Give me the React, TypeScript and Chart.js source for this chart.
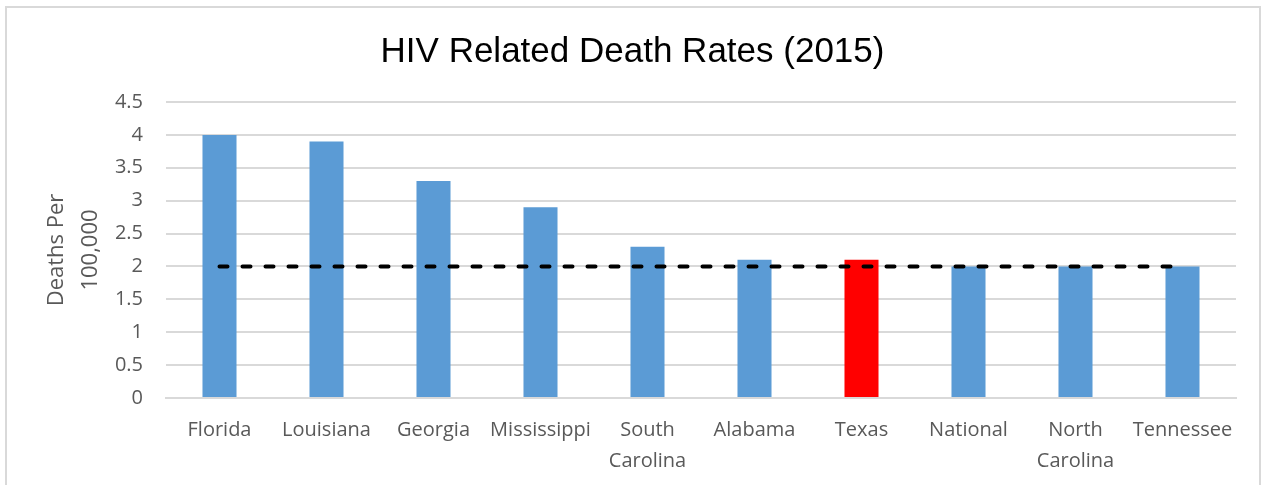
import React, { useEffect, useRef } from "react";
import { Chart, registerables } from "chart.js";

Chart.register(...registerables);

const categories: (string | string[])[] = [
  "Florida",
  "Louisiana",
  "Georgia",
  "Mississippi",
  ["South", "Carolina"],
  "Alabama",
  "Texas",
  "National",
  ["North", "Carolina"],
  "Tennessee",
];
const deathRates = [4.0, 3.9, 3.3, 2.9, 2.3, 2.1, 2.1, 2.0, 2.0, 2.0];
const nationalLine = [2, 2, 2, 2, 2, 2, 2, 2, 2, 2];
const highlightIndex = 6;
const titleText = "HIV Related Death Rates (2015)";
const yTitle = ["Deaths Per", "100,000"];

export default function App() {
  const ref = useRef<HTMLCanvasElement | null>(null);

  useEffect(() => {
    if (!ref.current) return;
    const chart = new Chart(ref.current, {
      type: "bar",
      data: {
        labels: categories,
        datasets: [
          {
            type: "line",
            data: nationalLine,
            borderColor: "#000000",
            borderWidth: 4,
            borderDash: [8, 15],
            borderCapStyle: "round",
            pointRadius: 0,
            fill: false,
            order: 0,
          } as any,
          {
            type: "bar",
            data: deathRates,
            backgroundColor: deathRates.map((_, i) =>
              i === highlightIndex ? "#FF0000" : "#5B9BD5"
            ),
            categoryPercentage: 1,
            barPercentage: 0.318,
            order: 1,
          },
        ],
      },
      options: {
        responsive: false,
        animation: false,
        layout: { padding: { left: 0, right: 0, top: 0, bottom: 0 } },
        plugins: {
          legend: { display: false },
          tooltip: { enabled: false },
          title: {
            display: true,
            text: titleText,
            color: "#000000",
            font: { family: "'Liberation Sans', Arial, sans-serif", size: 35, weight: "normal", lineHeight: 1.2 },
            padding: { top: 31, bottom: 29 },
          },
        },
        scales: {
          x: {
            grid: { display: false, drawTicks: false },
            border: { display: true, color: "#d9d9d9", width: 2 },
            ticks: {
              color: "#595959",
              padding: 17,
              maxRotation: 0,
              autoSkip: false,
              font: { family: "'Open Sans', sans-serif", size: 20, lineHeight: 1.55 },
            },
            afterFit: (scale: any) => {
              scale.height = 87;
            },
          },
          y: {
            min: 0,
            max: 4.5,
            ticks: {
              stepSize: 0.5,
              color: "#595959",
              padding: 23,
              font: { family: "'Open Sans', sans-serif", size: 20 },
              callback: (v: any) => String(Number(v)),
            },
            grid: { color: "#d9d9d9", lineWidth: 2, drawTicks: false },
            border: { display: false },
            title: {
              display: true,
              text: yTitle,
              color: "#595959",
              font: { family: "'Open Sans', sans-serif", size: 22, lineHeight: 1.55 },
              padding: { top: 40, bottom: 0 },
            },
            afterFit: (scale: any) => {
              scale.width = 166;
            },
          },
          yRight: {
            position: "right",
            display: true,
            min: 0,
            max: 4.5,
            grid: { display: false, drawTicks: false },
            border: { display: false },
            ticks: { display: false },
            afterFit: (scale: any) => {
              scale.width = 29;
            },
          },
        },
      },
    });
    return () => chart.destroy();
  }, []);

  return (
    <div
      style={{
        position: "absolute",
        left: 0,
        top: 0,
        width: 1265,
        height: 485,
        overflow: "hidden",
        background: "#ffffff",
      }}
    >
      <div
        style={{
          position: "absolute",
          left: 5,
          top: 6,
          width: 1256,
          height: 600,
          boxSizing: "border-box",
          border: "2px solid #d9d9d9",
        }}
      />
      <canvas
        ref={ref}
        width={1265}
        height={485}
        style={{ position: "absolute", left: 0, top: 0, width: 1265, height: 485 }}
      />
    </div>
  );
}
